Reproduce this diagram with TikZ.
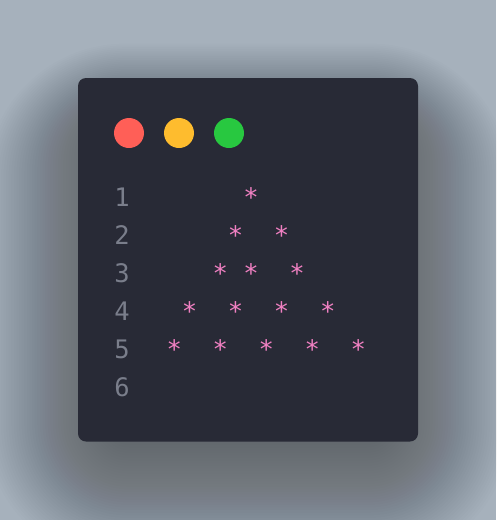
\documentclass[tikz,border=0pt]{standalone}
\usepackage{fontspec}
\newfontfamily\codefont{DejaVu Sans Mono}
\definecolor{bgcol}{HTML}{A6B1BC}
\definecolor{wincol}{HTML}{282A36}
\definecolor{numcol}{HTML}{7A7E8B}
\definecolor{starcol}{HTML}{F080C2}
\definecolor{dotred}{HTML}{FF5F57}
\definecolor{dotyellow}{HTML}{FEBC2E}
\definecolor{dotgreen}{HTML}{28C840}
\begin{document}
\begin{tikzpicture}[x=1pt,y=-1pt,
  linenum/.style={anchor=base,inner sep=0pt,text=numcol,font=\codefont\fontsize{25.5}{30}\selectfont},
  coderow/.style={anchor=base west,inner sep=0pt,text=starcol,font=\codefont\fontsize{25.5}{30}\selectfont},
  dot/.style={circle,inner sep=0pt,minimum size=30pt}]
\useasboundingbox (0,0) rectangle (496,520);
\fill[bgcol] (0,0) rectangle (496,520);
% soft shadow
\foreach \i in {1,...,48}{
  \pgfmathsetmacro{\rr}{20+2.5*\i}
  \fill[black,opacity=0.008,rounded corners=\rr pt]
    (110-2.6*\i,130-1.8*\i) rectangle (386+2.6*\i,440+2.6*\i);
}
\fill[wincol,rounded corners=8pt] (78,78) rectangle (418,441.5);
% window buttons
\node[dot,fill=dotred] (red) at (129,133) {};
\node[dot,fill=dotyellow] (yellow) at (179,133) {};
\node[dot,fill=dotgreen] (green) at (229,133) {};
% line numbers
\foreach \n in {1,...,6}{
  \node[linenum] (ln\n) at (122,206.7+38*\n-38) {\n};
}
% code rows
\node[coderow] (r1) at (166.3,206.7) {~~~~~*};
\node[coderow] (r2) at (166.3,244.7) {~~~~*~~*};
\node[coderow] (r3) at (166.3,282.7) {~~~*~*~~*};
\node[coderow] (r4) at (166.3,320.7) {~*~~*~~*~~*};
\node[coderow] (r5) at (166.3,358.7) {*~~*~~*~~*~~*};
\end{tikzpicture}
\end{document}
